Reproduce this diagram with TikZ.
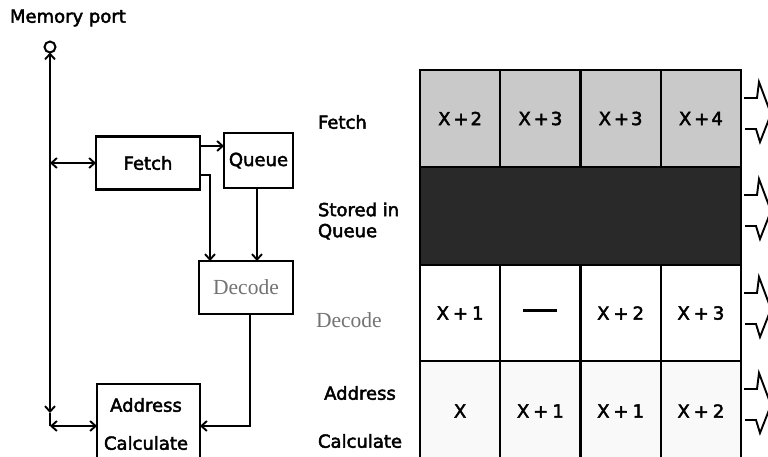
\documentclass[tikz,border=0pt]{standalone}
\usepackage{fontspec}
\setmainfont{DejaVu Sans}[FakeBold=2.5]
\newfontfamily\decfont{Liberation Serif}
\usetikzlibrary{arrows.meta}
\begin{document}
\begin{tikzpicture}[x=1pt,y=-1pt,
  every node/.style={inner sep=0pt, outer sep=0pt},
  txt/.style={font=\fontsize{18}{21}\selectfont},
  dectxt/.style={font=\decfont\fontsize{21.5}{24}\selectfont, text=black!55},
  box/.style={draw, line width=2.3pt, fill=white, txt},
  wire/.style={line width=2.1pt},
  barb/.tip={Straight Barb[length=5.5pt,width=10pt,line width=1.9pt]},
  arr/.style={wire, -barb},
  darr/.style={wire, barb-barb},
  cell/.style={draw, line width=2.1pt, minimum width=80.25pt, txt},
  row1/.style={cell, fill=gray!42, minimum height=97pt},
  row3/.style={cell, fill=white, minimum height=96pt},
  row4/.style={cell, fill=gray!5, minimum height=100pt},
  sidemark/.style={line width=1.9pt, line join=miter}
]
\clip (0,0) rectangle (768,456);

% ---------------- left block diagram ----------------
\node[txt, anchor=west] (mp) at (10,18) {Memory port};
\node[draw, circle, line width=2pt, minimum size=11pt] (port) at (50,47) {};

\node[box, minimum width=104pt, minimum height=53pt] (fetch) at (148,163) {Fetch};
\node[box, minimum width=69pt, minimum height=55pt] (queue) at (258.5,160.5) {Queue};
\node[box, minimum width=94pt, minimum height=53pt, dectxt] (decode) at (246,287.5) {Decode};
\node[box, minimum width=103pt, minimum height=110pt] (addr) at (148.5,439) {};
\node[txt] (addrA) at (146,405) {Address};
\node[txt] (addrC) at (146,443) {Calculate};

\coordinate (busF) at (50,163);
\coordinate (busTip) at (50,413);
\coordinate (busC) at (50,426);
\coordinate (qdrop) at (257,0);

\draw[darr] (port.south) -- (busTip);
\draw[wire] (busTip) -- (busC);
\draw[darr] (busF) -- (fetch.west);
\draw[darr] (busC) -- (addr.west |- busC);

\draw[arr] (fetch.east |- 0,146) -- (queue.west |- 0,146);
\draw[arr] (fetch.east |- 0,175) -| (decode.north -| 210,0);
\draw[arr] (queue.south -| qdrop) -- (decode.north -| qdrop);
\draw[arr] (decode.south -| 250,0) |- (addr.east |- busC);

% ---------------- right timing table ----------------
\node[txt, anchor=west] (lF) at (318,122) {Fetch};
\node[txt, anchor=west, align=left] (lQ) at (318,221) {Stored in\\Queue};
\node[dectxt, anchor=west] (lD) at (316,320) {Decode};
\node[txt] (lA) at (360,393) {Address};
\node[txt] (lC) at (360,441) {Calculate};

\node[row1] (c11) at (460.1,118.5) {X\hspace{3pt}+\hspace{2pt}2};
\node[row1] (c12) at (540.4,118.5) {X\hspace{3pt}+\hspace{2pt}3};
\node[row1] (c13) at (620.6,118.5) {X\hspace{3pt}+\hspace{2pt}3};
\node[row1] (c14) at (700.9,118.5) {X\hspace{3pt}+\hspace{2pt}4};

\node[draw, line width=2.1pt, fill=black!84, minimum width=321pt, minimum height=98pt] (c2) at (580.5,216) {};

\node[row3] (c31) at (460.1,313) {X\hspace{4pt}+\hspace{4pt}1};
\node[row3] (c32) at (540.4,313) {\rule[5pt]{34pt}{2.3pt}};
\node[row3] (c33) at (620.6,313) {X\hspace{4pt}+\hspace{4pt}2};
\node[row3] (c34) at (700.9,313) {X\hspace{4pt}+\hspace{4pt}3};

\node[row4] (c41) at (460.1,411) {X};
\node[row4] (c42) at (540.4,411) {X\hspace{4pt}+\hspace{4pt}1};
\node[row4] (c43) at (620.6,411) {X\hspace{4pt}+\hspace{4pt}1};
\node[row4] (c44) at (700.9,411) {X\hspace{4pt}+\hspace{4pt}2};

% right-hand marks
\foreach \T in {70,167,265,361}{
  \draw[sidemark] (744,\T+28) -- (757,\T+28) -- (759,\T+12) -- (771,\T+44);
  \draw[sidemark] (745,\T+59) -- (756,\T+59) -- (760,\T+72) -- (771,\T+44);
}
\end{tikzpicture}
\end{document}
